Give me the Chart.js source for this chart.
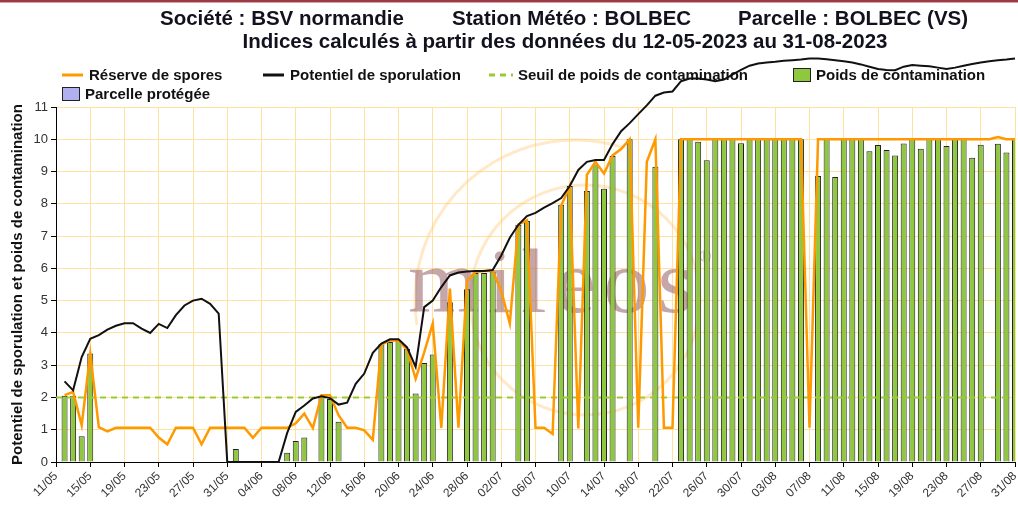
<!DOCTYPE html>
<html lang="fr">
<head>
<meta charset="utf-8">
<title>Indices - BOLBEC</title>
<script src="https://cdn.jsdelivr.net/npm/chart.js@4.4.1/dist/chart.umd.min.js"></script>
<style>
  html, body { margin: 0; padding: 0; background: #fff; }
  #wrap { position: relative; width: 1018px; height: 507px; }
</style>
</head>
<body>
<div id="wrap"><canvas id="indices"></canvas></div>
<script>
// jours du 11/05 au 31/08 (un libellé sur quatre est affiché)
const dates = [
  '11/05','12/05','13/05','14/05','15/05','16/05','17/05','18/05','19/05','20/05','21/05','22/05','23/05','24/05','25/05','26/05','27/05','28/05','29/05','30/05','31/05',
  '01/06','02/06','03/06','04/06','05/06','06/06','07/06','08/06','09/06','10/06','11/06','12/06','13/06','14/06','15/06','16/06','17/06','18/06','19/06','20/06','21/06','22/06','23/06','24/06','25/06','26/06','27/06','28/06','29/06','30/06',
  '01/07','02/07','03/07','04/07','05/07','06/07','07/07','08/07','09/07','10/07','11/07','12/07','13/07','14/07','15/07','16/07','17/07','18/07','19/07','20/07','21/07','22/07','23/07','24/07','25/07','26/07','27/07','28/07','29/07','30/07','31/07',
  '01/08','02/08','03/08','04/08','05/08','06/08','07/08','08/08','09/08','10/08','11/08','12/08','13/08','14/08','15/08','16/08','17/08','18/08','19/08','20/08','21/08','22/08','23/08','24/08','25/08','26/08','27/08','28/08','29/08','30/08','31/08'
];

// réserve de spores (courbe orange)
const reserveSpores = [
  null, 2.07, 2.17, 1.14, 3.36, 1.08, 0.95, 1.06, 1.06, 1.06, 1.06, 1.06, 0.76, 0.55, 1.06, 1.06, 1.06, 0.55, 1.06, 1.06, 1.06,
  1.06, 1.06, 0.75, 1.06, 1.06, 1.06, 1.06, 1.2, 1.5, 1.05, 2.07, 2.07, 1.45, 1.06, 1.06, 0.98, 0.69, 3.64, 3.77, 3.76, 3.48, 2.58, 3.4, 4.29, 1.06, 5.37, 1.06, 5.6, 5.89, 5.92,
  5.92, 5.3, 4.29, 7.36, 7.49, 1.06, 1.06, 0.87, 7.94, 8.55, 1.04, 8.9, 9.3, 8.94, 9.5, 9.7, 10, 1.06, 9.3, 10, 1.06, 1.06, 10, 10, 10, 10, 10, 10, 10, 10, 10,
  10, 10, 10, 10, 10, 10, 1.06, 10, 10, 10, 10, 10, 10, 10, 10, 10, 10, 10, 10, 10, 10, 10, 10, 10, 10, 10, 10, 10, 10.07, 10, 10
];

// potentiel de sporulation (courbe noire)
const potentielSporulation = [
  null, 2.5, 2.22, 3.25, 3.82, 3.93, 4.1, 4.22, 4.3, 4.3, 4.13, 4.0, 4.28, 4.15, 4.55, 4.85, 5.0, 5.06, 4.9, 4.6, 0,
  0, 0, 0, 0, 0, 0, 0.9, 1.55, 1.75, 1.97, 2.04, 1.98, 1.78, 1.84, 2.42, 2.74, 3.38, 3.67, 3.8, 3.8, 3.55, 2.95, 4.8, 5.0, 5.42, 5.78, 5.87, 5.9, 5.92, 5.92,
  5.95, 6.4, 6.95, 7.35, 7.62, 7.72, 7.88, 8.02, 8.18, 8.55, 9.05, 9.3, 9.36, 9.36, 9.85, 10.25, 10.5, 10.78, 11.05, 11.35, 11.45, 11.48, 11.8, 11.88, 11.88, 11.85, 11.8, 11.85, 12.0, 12.15, 12.28,
  12.35, 12.38, 12.4, 12.43, 12.45, 12.47, 12.5, 12.5, 12.48, 12.45, 12.42, 12.38, 12.32, 12.25, 12.18, 12.15, 12.14, 12.25, 12.3, 12.28, 12.26, 12.22, 12.18, 12.22, 12.28, 12.33, 12.38, 12.42, 12.45, 12.47, 12.5
];

// poids de contamination (barres vertes)
const poidsContamination = [
  null, 2.05, 2.05, 0.8, 3.36, null, null, null, null, null, null, null, null, null, null, null, null, null, null, null, null,
  0.4, null, null, null, null, null, 0.29, 0.65, 0.76, null, 2.05, 1.95, 1.25, null, null, null, null, 3.65, 3.72, 3.75, 3.51, 2.12, 3.07, 3.33, null, 4.95, null, 5.35, 5.86, 5.86,
  5.88, null, null, 7.35, 7.47, null, null, null, 7.97, 8.55, null, 8.4, 9.22, 8.47, 9.48, null, 10, null, null, 9.15, null, null, 10, 10, 9.92, 9.35, 10, 10, 10, 9.88, 10,
  10, 10, 10, 10, 10, 10, null, 8.86, 10, 8.83, 10, 10, 10, 9.63, 9.82, 9.67, 9.5, 9.87, 10, 9.71, 10, 10, 9.79, 10, 10, 9.43, 9.83, null, 9.86, 9.59, 10
];

// seuil de poids de contamination (ligne pointillée)
const seuilContamination = 2;

const yMin = 0;
const yMax = 11;

const titres = [
  ['Société : BSV normandie', 'Station Météo : BOLBEC', 'Parcelle : BOLBEC (VS)'],
  ['Indices calculés à partir des données du 12-05-2023 au 31-08-2023']
];

const ORANGE = '#ff9900';
const NOIR = '#111111';
const VERT = '#8fc73e';
const VERT_SEUIL = '#99cc33';
const LAVANDE = '#b0b0f0';
const GRILLE = '#ffe2a0';
const POLICE = '"Liberation Sans", Arial, sans-serif';

// légende dessinée à la main pour respecter la mise en page d'origine
const legende = [
  { texte: 'Réserve de spores', type: 'ligne', couleur: ORANGE, x: 62, y: 75 },
  { texte: 'Potentiel de sporulation', type: 'ligne', couleur: NOIR, x: 263, y: 75 },
  { texte: 'Seuil de poids de contamination', type: 'tirets', couleur: VERT_SEUIL, x: 489, y: 75 },
  { texte: 'Poids de contamination', type: 'boite', couleur: VERT, x: 793, y: 75 },
  { texte: 'Parcelle protégée', type: 'boite', couleur: LAVANDE, x: 62, y: 94 }
];

const entete = {
  id: 'entete',
  beforeDraw(chart) {
    const ctx = chart.ctx;
    ctx.save();
    ctx.fillStyle = '#ffffff';
    ctx.fillRect(0, 0, chart.width, chart.height);
    ctx.fillStyle = '#9b3b45';
    ctx.fillRect(0, 0, chart.width, 2);
    ctx.fillStyle = '#d9a0a6';
    ctx.fillRect(0, 2, chart.width, 1);

    ctx.fillStyle = '#12121e';
    ctx.font = 'bold 20.5px ' + POLICE;
    ctx.textBaseline = 'alphabetic';
    const xs = [160, 452, 738];
    titres[0].forEach((t, i) => ctx.fillText(t, xs[i], 25));
    ctx.textAlign = 'center';
    ctx.fillText(titres[1][0], 565, 48);
    ctx.restore();
  }
};

const fond = {
  id: 'fond',
  beforeDatasetsDraw(chart) {
    const ctx = chart.ctx;
    ctx.save();
    // filigrane
    ctx.strokeStyle = 'rgba(255, 200, 120, 0.4)';
    ctx.lineWidth = 3;
    ctx.beginPath();
    ctx.arc(575, 300, 160, Math.PI * 0.95, Math.PI * 1.6);
    ctx.stroke();
    ctx.beginPath();
    ctx.arc(585, 300, 115, 0, Math.PI * 2);
    ctx.stroke();
    ctx.fillStyle = 'rgba(150, 95, 100, 0.55)';
    ctx.font = '92px "Liberation Serif", serif';
    ctx.textBaseline = 'alphabetic';
    let x = 408;
    for (const c of 'mileos') {
      ctx.fillText(c, x, 312);
      x += ctx.measureText(c).width + 8;
    }
    ctx.font = '16px "Liberation Serif", serif';
    ctx.fillText('®', x - 2, 262);

    // légende
    ctx.font = 'bold 15px ' + POLICE;
    ctx.textBaseline = 'middle';
    for (const it of legende) {
      if (it.type === 'ligne') {
        ctx.strokeStyle = it.couleur; ctx.lineWidth = 3; ctx.setLineDash([]);
        ctx.beginPath(); ctx.moveTo(it.x, it.y); ctx.lineTo(it.x + 21, it.y); ctx.stroke();
      } else if (it.type === 'tirets') {
        ctx.strokeStyle = it.couleur; ctx.lineWidth = 3; ctx.setLineDash([6, 5]);
        ctx.beginPath(); ctx.moveTo(it.x, it.y); ctx.lineTo(it.x + 24, it.y); ctx.stroke();
        ctx.setLineDash([]);
      } else {
        ctx.fillStyle = it.couleur; ctx.strokeStyle = '#222'; ctx.lineWidth = 1;
        ctx.fillRect(it.x + 0.5, it.y - 6.5, 17, 13);
        ctx.strokeRect(it.x + 0.5, it.y - 6.5, 17, 13);
      }
      ctx.fillStyle = '#111';
      const dx = it.type === 'tirets' ? 29 : (it.type === 'boite' ? 23 : 27);
      ctx.fillText(it.texte, it.x + dx, it.y + 1);
    }
    ctx.restore();
  }
};

const ctx = document.getElementById('indices').getContext('2d');
new Chart(ctx, {
  type: 'bar',
  data: {
    labels: dates,
    datasets: [
      {
        type: 'line',
        label: 'Potentiel de sporulation',
        data: potentielSporulation,
        borderColor: NOIR,
        borderWidth: 2,
        pointRadius: 0,
        tension: 0,
        clip: false,
        order: 1
      },
      {
        type: 'line',
        label: 'Réserve de spores',
        data: reserveSpores,
        borderColor: ORANGE,
        borderWidth: 2.5,
        pointRadius: 0,
        tension: 0,
        clip: false,
        order: 2
      },
      {
        type: 'line',
        label: 'Seuil de poids de contamination',
        data: [{ x: dates[0], y: seuilContamination }, { x: dates[dates.length - 1], y: seuilContamination }],
        borderColor: VERT_SEUIL,
        borderWidth: 2,
        borderDash: [6, 5],
        pointRadius: 0,
        order: 3
      },
      {
        label: 'Poids de contamination',
        data: poidsContamination,
        backgroundColor: VERT,
        borderColor: '#222',
        borderWidth: 1,
        barPercentage: 0.7,
        categoryPercentage: 1,
        order: 4
      }
    ]
  },
  options: {
    responsive: true,
    maintainAspectRatio: false,
    animation: false,
    layout: { padding: { top: 107, right: 3, left: 0, bottom: 0 } },
    plugins: {
      legend: { display: false },
      title: { display: false },
      tooltip: { enabled: false }
    },
    scales: {
      x: {
        offset: false,
        grid: { offset: false, color: GRILLE, tickColor: '#000', tickLength: 5 },
        border: { color: '#000', width: 1 },
        ticks: {
          autoSkip: false,
          maxRotation: 45,
          minRotation: 45,
          color: '#333',
          padding: 2,
          font: { family: POLICE, size: 12 },
          callback(v, i) { return i % 4 === 0 ? dates[i] : null; }
        },
        afterFit(s) { s.height = 45; s.paddingRight = 0; }
      },
      y: {
        min: yMin,
        max: yMax,
        grid: { color: GRILLE, tickColor: '#000', tickLength: 5 },
        border: { color: '#000', width: 1 },
        ticks: { stepSize: 1, color: '#333', padding: 3, font: { family: POLICE, size: 13 } },
        title: {
          display: true,
          text: 'Potentiel de sporulation et poids de contamination',
          color: '#111',
          padding: { top: 9, bottom: 0 },
          font: { family: POLICE, size: 15, weight: 'bold' }
        },
        afterFit(s) { s.width = 56; }
      }
    }
  },
  plugins: [entete, fond]
});
</script>
</body>
</html>
